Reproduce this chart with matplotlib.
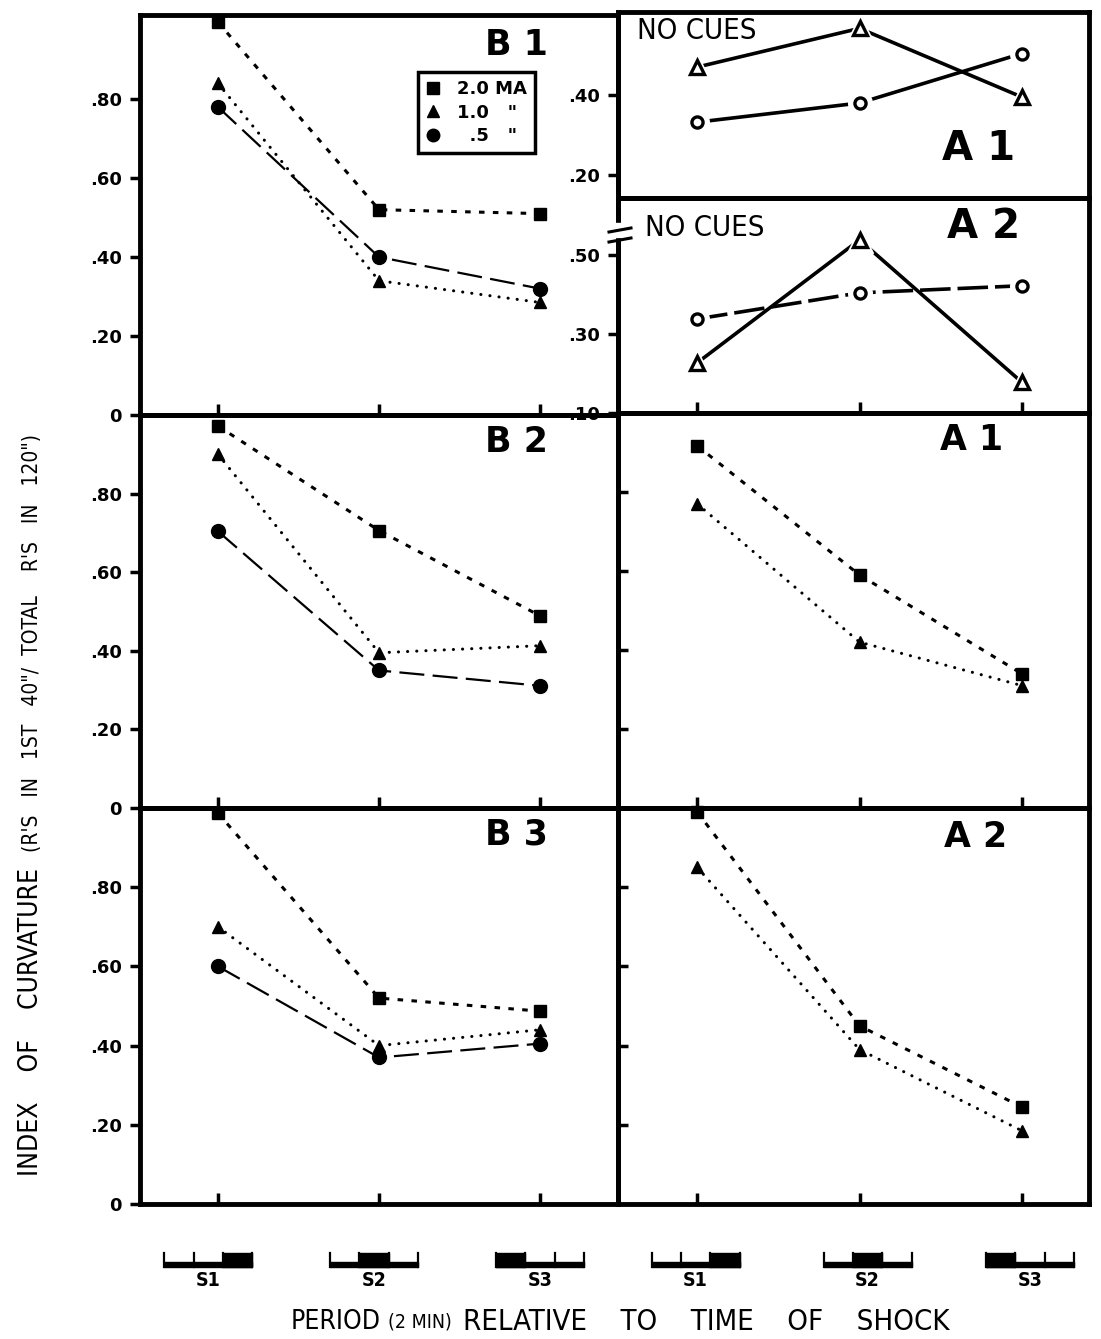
import matplotlib
matplotlib.use("Agg")
import matplotlib.pyplot as plt
from matplotlib.lines import Line2D
from matplotlib.patches import Rectangle
from matplotlib.transforms import blended_transform_factory

plt.rcParams["font.family"] = ["DejaVu Sans"]
plt.rcParams["lines.scale_dashes"] = False

# ---- data ----
periods = [1, 2, 3]
period_labels = ["S1", "S2", "S3"]
shock_seg = [2, 1, 0]          # which third of the period holds the shock

# B panels: 2.0 MA (square), 1.0 MA (triangle), .5 MA (circle)
b1_sq = [0.995, 0.52, 0.51]
b1_tri = [0.84, 0.34, 0.285]
b1_cir = [0.78, 0.40, 0.32]
b2_sq = [0.972, 0.706, 0.489]
b2_tri = [0.90, 0.395, 0.413]
b2_cir = [0.704, 0.35, 0.311]
b3_sq = [0.987, 0.52, 0.487]
b3_tri = [0.70, 0.40, 0.44]
b3_cir = [0.60, 0.37, 0.405]
# A panels: 2.0 MA (square), 1.0 MA (triangle)
a1_sq = [0.917, 0.59, 0.34]
a1_tri = [0.77, 0.42, 0.31]
a2_sq = [0.99, 0.45, 0.245]
a2_tri = [0.85, 0.39, 0.185]
# "no cues" groups
nc1_tri = [0.47, 0.567, 0.395]
nc1_cir = [0.332, 0.38, 0.504]
nc2_tri = [0.227, 0.538, 0.178]
nc2_cir = [0.338, 0.404, 0.422]

W, H = 1101, 1339


def box(x0, y0, x1, y1):
    return [x0 / W, 1 - y1 / H, (x1 - x0) / W, (y1 - y0) / H]


fig = plt.figure(figsize=(W / 100, H / 100), dpi=100)

SQ = dict(marker="s", ms=8, color="black", lw=2.2, dashes=(4, 6),
          dash_capstyle="butt", clip_on=False)
TRI = dict(marker="^", ms=9, color="black", lw=2.2, dashes=(0.1, 6.5),
           dash_capstyle="round", clip_on=False)
CIR = dict(marker="o", ms=10, color="black", lw=1.6, dashes=(18, 6),
           clip_on=False)

left_xlim = (0.516, 3.484)
right_xlim = (0.512, 3.414)


def style(ax, xlim, ylim, yticks, ylabels, ydir, xticks=True):
    ax.patch.set_visible(False)
    ax.set_xlim(xlim)
    ax.set_ylim(ylim)
    for s in ax.spines.values():
        s.set_linewidth(3.5)
    ax.set_xticks(periods if xticks else [])
    ax.set_xticklabels([])
    ax.tick_params(axis="x", direction="in", length=8, width=2.5)
    ax.set_yticks(yticks)
    ax.set_yticklabels(ylabels, fontweight="bold")
    ax.tick_params(axis="y", direction=ydir, length=7, width=2.5, pad=6,
                   labelsize=13)


def tag(ax, x, y, s, size=25, ha="right"):
    ax.text(x, y, s, transform=ax.transAxes, ha=ha, va="center",
            fontsize=size, fontweight="bold")


left_ticks = [0, 0.2, 0.4, 0.6, 0.8]
left_labels = ["0", ".20", ".40", ".60", ".80"]

# ---- left column ----
ax_b1 = fig.add_axes(box(140, 15, 618, 415))
ax_b1.plot(periods, b1_sq, **SQ)
ax_b1.plot(periods, b1_tri, **TRI)
ax_b1.plot(periods, b1_cir, **CIR)
style(ax_b1, left_xlim, (0, 1.013), left_ticks, left_labels, "out")
tag(ax_b1, 0.853, 0.925, "B 1")
handles = [Line2D([], [], marker="s", ls="none", color="k", ms=8),
           Line2D([], [], marker="^", ls="none", color="k", ms=9),
           Line2D([], [], marker="o", ls="none", color="k", ms=9)]
leg = ax_b1.legend(handles, ["2.0 MA", "1.0   \"", "  .5   \""],
                   loc="upper left", bbox_to_anchor=(0.581, 0.8575),
                   frameon=True, fancybox=False, edgecolor="black",
                   framealpha=1, prop=dict(size=13, weight="bold"),
                   handlelength=0.8, handletextpad=0.9,
                   borderpad=0.45, labelspacing=0.3, borderaxespad=0)
leg.get_frame().set_linewidth(2.5)

ax_b2 = fig.add_axes(box(140, 415, 618, 808))
ax_b2.plot(periods, b2_sq, **SQ)
ax_b2.plot(periods, b2_tri, **TRI)
ax_b2.plot(periods, b2_cir, **CIR)
style(ax_b2, left_xlim, (0, 1.0), left_ticks, left_labels, "out")
tag(ax_b2, 0.853, 0.931, "B 2")

ax_b3 = fig.add_axes(box(140, 808, 618, 1204))
ax_b3.plot(periods, b3_sq, **SQ)
ax_b3.plot(periods, b3_tri, **TRI)
ax_b3.plot(periods, b3_cir, **CIR)
style(ax_b3, left_xlim, (0, 1.0), left_ticks, left_labels, "out")
tag(ax_b3, 0.853, 0.934, "B 3")

# ---- right column ----
NC_LINE = dict(color="black", lw=2.6, clip_on=False, zorder=2)


def open_pts(ax, y, marker, ms):
    ax.plot(periods, y, ls="none", marker=marker, ms=ms + 9, mfc="white",
            mec="white", clip_on=False, zorder=3)
    ax.plot(periods, y, ls="none", marker=marker, ms=ms, mfc="white",
            mec="black", mew=2.4, clip_on=False, zorder=4)


ax_n1 = fig.add_axes(box(618, 12, 1089, 198))
ax_n1.plot(periods, nc1_tri, **NC_LINE)
ax_n1.plot(periods, nc1_cir, **NC_LINE)
open_pts(ax_n1, nc1_tri, "^", 10)
open_pts(ax_n1, nc1_cir, "o", 8)
style(ax_n1, right_xlim, (0.142, 0.608), [0.2, 0.4], [".20", ".40"], "out",
      xticks=False)
tag(ax_n1, 0.844, 0.261, "A 1", size=29)
ax_n1.text(0.04, 0.9, "NO CUES", transform=ax_n1.transAxes, ha="left",
           va="center", fontsize=21, fontstretch="condensed")

ax_n2 = fig.add_axes(box(618, 198, 1089, 413))
ax_n2.plot(periods, nc2_tri, **NC_LINE)
ax_n2.plot(periods, nc2_cir, dashes=(22, 5), **NC_LINE)
open_pts(ax_n2, nc2_tri, "^", 10)
open_pts(ax_n2, nc2_cir, "o", 8)
style(ax_n2, right_xlim, (0.10, 0.644), [0.1, 0.3, 0.5],
      [".10", ".30", ".50"], "out")
tag(ax_n2, 0.854, 0.866, "A 2", size=29)
ax_n2.text(0.057, 0.862, "NO CUES", transform=ax_n2.transAxes, ha="left",
           va="center", fontsize=21, fontstretch="condensed")

ax_a1 = fig.add_axes(box(618, 413, 1089, 808))
ax_a1.plot(periods, a1_sq, **SQ)
ax_a1.plot(periods, a1_tri, **TRI)
style(ax_a1, right_xlim, (0, 1.0), [0.2, 0.4, 0.6, 0.8], [""] * 4, "in")
tag(ax_a1, 0.817, 0.932, "A 1")

ax_a2 = fig.add_axes(box(618, 808, 1089, 1204))
ax_a2.plot(periods, a2_sq, **SQ)
ax_a2.plot(periods, a2_tri, **TRI)
style(ax_a2, right_xlim, (0, 1.0), [0.2, 0.4, 0.6, 0.8], [""] * 4, "in")
tag(ax_a2, 0.827, 0.927, "A 2")

# axis break between the two "no cues" scales
fig.add_artist(Rectangle((612 / W, 1 - 237 / H), 14 / W, 14 / H,
                         transform=fig.transFigure, color="white", zorder=5))
for y0, y1 in [(232, 228), (242, 238)]:
    fig.add_artist(Line2D([609 / W, 631 / W], [1 - y0 / H, 1 - y1 / H],
                          transform=fig.transFigure, color="black", lw=2.2,
                          zorder=6))


# ---- period icons under the bottom panels ----
def period_icons(ax, centers, width):
    tr = blended_transform_factory(ax.transData, fig.transFigure)
    y_top, y_base, y_bot = 1 - 1253 / H, 1 - 1262 / H, 1 - 1267 / H
    seg_w = width / 3
    for c, lab, seg in zip(centers, period_labels, shock_seg):
        x0 = c - width / 2
        fig.add_artist(Rectangle((x0, y_bot), width, y_base - y_bot,
                                 transform=tr, color="black"))
        for k in range(4):
            fig.add_artist(Line2D([x0 + k * seg_w] * 2, [y_bot, y_top],
                                  transform=tr, color="black", lw=1.6))
        fig.add_artist(Rectangle((x0 + seg * seg_w, y_bot), seg_w,
                                 y_top - y_bot, transform=tr, color="black"))
        fig.text(c, 1 - 1281 / H, lab, transform=tr, ha="center",
                 va="center", fontsize=14, fontweight="bold",
                 fontstretch="condensed")


period_icons(ax_b3, [0.94, 1.97, 3.0], 0.547)
period_icons(ax_a2, [0.99, 2.05, 3.05], 0.543)

# ---- axis titles ----
yl = 1 - 1322 / H
fig.text(291 / W, yl, "PERIOD", ha="left", va="center", fontsize=19,
         fontstretch="condensed")
fig.text(388 / W, yl, "(2 MIN)", ha="left", va="center", fontsize=14,
         fontstretch="condensed")
fig.text(463 / W, yl, "RELATIVE    TO    TIME    OF    SHOCK",
         ha="left", va="center", fontsize=21, fontstretch="condensed")

fig.text(31 / W, 1 - 1176 / H, "INDEX    OF    CURVATURE", rotation=90,
         ha="center", va="bottom", fontsize=19, fontstretch="condensed")
fig.text(32 / W, 1 - 852 / H,
         "(R'S   IN   1ST   40\"/  TOTAL    R'S   IN   120\")",
         rotation=90, ha="center", va="bottom", fontsize=15,
         fontstretch="condensed")

fig.savefig("out.png", dpi=100)
